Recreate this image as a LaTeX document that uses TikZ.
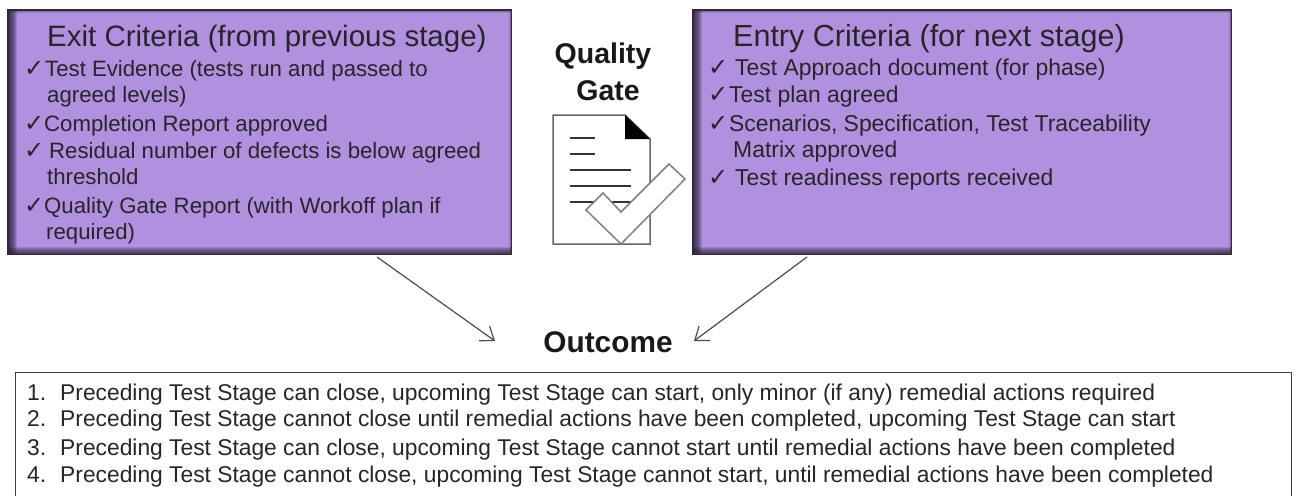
\documentclass[tikz,border=0pt]{standalone}
\usepackage{fontspec}
\setmainfont{Liberation Sans}
\newfontfamily\checkfont{DejaVu Sans}
\usetikzlibrary{arrows.meta,positioning}
\definecolor{gatepurple}{HTML}{B190DF}
\definecolor{gateedge}{HTML}{2E2A3A}
\definecolor{gateglow}{HTML}{2A2238}
\tikzset{
  x=1pt,y=-1pt,
  criteriabox/.style={draw=none,fill=gatepurple,anchor=north west,inner sep=0pt},
  glowstrip/.style={fill=gateglow,opacity=.17},
  headtext/.style={font=\fontsize{29.5}{30}\selectfont,anchor=base west,inner sep=0pt,text=black!85},
  entryhead/.style={headtext,font=\fontsize{30.5}{30}\selectfont},
  itemtext/.style={font=\fontsize{22.2}{26}\selectfont,anchor=base west,inner sep=0pt,text=black!85},
  entryitem/.style={itemtext,font=\fontsize{22.9}{26}\selectfont},
  ticktext/.style={font=\checkfont\fontsize{24}{26}\selectfont,anchor=base west,inner sep=0pt,text=black!85},
  gatetext/.style={font=\bfseries\fontsize{28.5}{30}\selectfont,inner sep=0pt,text=black!90},
  listtext/.style={font=\fontsize{22.8}{24}\selectfont,anchor=base west,inner sep=0pt,text=black!85},
  flowarrow/.style={-{Straight Barb[length=12pt,width=18pt]},draw=black!70,line width=1.2pt},
  docline/.style={draw=black!80,line width=2pt},
}
\newcommand{\edgeglow}[1]{%
  \foreach \gw in {1,...,9}
    \fill[glowstrip] (#1.north west) rectangle ([xshift=\gw pt]#1.south west);
  \foreach \gw in {1,2}
    \fill[glowstrip] ([xshift=-\gw pt]#1.north east) rectangle (#1.south east);
  \foreach \gw in {1,2,3}
    \fill[glowstrip] (#1.north west) rectangle ([yshift=-\gw pt]#1.north east);
  \foreach \gw in {1,...,7}
    \fill[glowstrip] ([yshift=\gw pt]#1.south west) rectangle (#1.south east);
  \draw[draw=gateedge,line width=1.2pt] (#1.north west) rectangle (#1.south east);}
\begin{document}
\begin{tikzpicture}
\useasboundingbox (0,0) rectangle (1297,495);

\node[criteriabox,minimum width=503pt,minimum height=244pt] (exitbox) at (8,10) {};
\node[criteriabox,minimum width=538pt,minimum height=244pt] (entrybox) at (693,10) {};
\edgeglow{exitbox}
\edgeglow{entrybox}

% left box
\node[headtext] (exithead) at (47,46) {Exit Criteria (from previous stage)};
\node[ticktext] (tick1) at (24,76) {✓};
\node[itemtext] (exit1) at (45,76) {Test Evidence (tests run and passed to};
\node[itemtext] (exit1b) at (47,102) {agreed levels)};
\node[ticktext] (tick2) at (24,131) {✓};
\node[itemtext] (exit2) at (44,131) {Completion Report approved};
\node[ticktext] (tick3) at (24,158) {✓};
\node[itemtext] (exit3) at (49,158) {Residual number of defects is below agreed};
\node[itemtext] (exit3b) at (47,184) {threshold};
\node[ticktext] (tick4) at (24,213) {✓};
\node[itemtext] (exit4) at (44,213) {Quality Gate Report (with Workoff plan if};
\node[itemtext] (exit4b) at (46,239) {required)};

% right box
\node[entryhead] (entryheading) at (733,46) {Entry Criteria (for next stage)};
\node[ticktext] (tick5) at (708,75) {✓};
\node[entryitem] (entry1) at (735,75) {Test Approach document (for phase)};
\node[ticktext] (tick6) at (708,102) {✓};
\node[entryitem] (entry2) at (729,102) {Test plan agreed};
\node[ticktext] (tick7) at (708,131) {✓};
\node[entryitem] (entry3) at (729,131) {Scenarios, Specification, Test Traceability};
\node[entryitem] (entry3b) at (733,157) {Matrix approved};
\node[ticktext] (tick8) at (708,185) {✓};
\node[entryitem] (entry4) at (735,185) {Test readiness reports received};

% middle
\node[gatetext] (quality) at (603,56) {Quality};
\node[gatetext] (gate) at (608,91) {Gate};
\draw[draw=black!60,line width=1.5pt,fill=white] (553,115) -- (625,115) -- (650,139) -- (650,244) -- (553,244) -- cycle;
\fill[black] (625,115) -- (650,139) -- (625,139) -- cycle;
\foreach \ya/\xb in {138/595,154/595,170/631,186/631,202/631}
  \draw[docline] (570,\ya) -- (\xb,\ya);
\draw[draw=black!50,line width=1.5pt,fill=white] (586,210) -- (603,193) -- (621,212) -- (669,164) -- (685,179) -- (621,244) -- cycle;

% outcome
\node[font=\bfseries\fontsize{29.8}{30}\selectfont,inner sep=0pt,text=black!90] (outcome) at (608,342) {Outcome};
\coordinate (exitfoot) at (377,257);
\coordinate (entryfoot) at (807,257);
\coordinate (leftin) at (495,341);
\coordinate (rightin) at (694,341);
\draw[flowarrow] (exitfoot) -- (leftin);
\draw[flowarrow] (entryfoot) -- (rightin);

% list runs off the bottom of the page
\node[draw=black!75,line width=1.2pt,anchor=north west,minimum width=1276pt,minimum height=126pt,inner sep=0pt] (listbox) at (15,372) {};
\node[listtext] (item1) at (27,400) {1.\hspace{14pt}Preceding Test Stage can close, upcoming Test Stage can start, only minor (if any) remedial actions required};
\node[listtext] (item2) at (27,426) {2.\hspace{14pt}Preceding Test Stage cannot close until remedial actions have been completed, upcoming Test Stage can start};
\node[listtext] (item3) at (27,455) {3.\hspace{14pt}Preceding Test Stage can close, upcoming Test Stage cannot start until remedial actions have been completed};
\node[listtext] (item4) at (27,482) {4.\hspace{14pt}Preceding Test Stage cannot close, upcoming Test Stage cannot start, until remedial actions have been completed};
\end{tikzpicture}
\end{document}
